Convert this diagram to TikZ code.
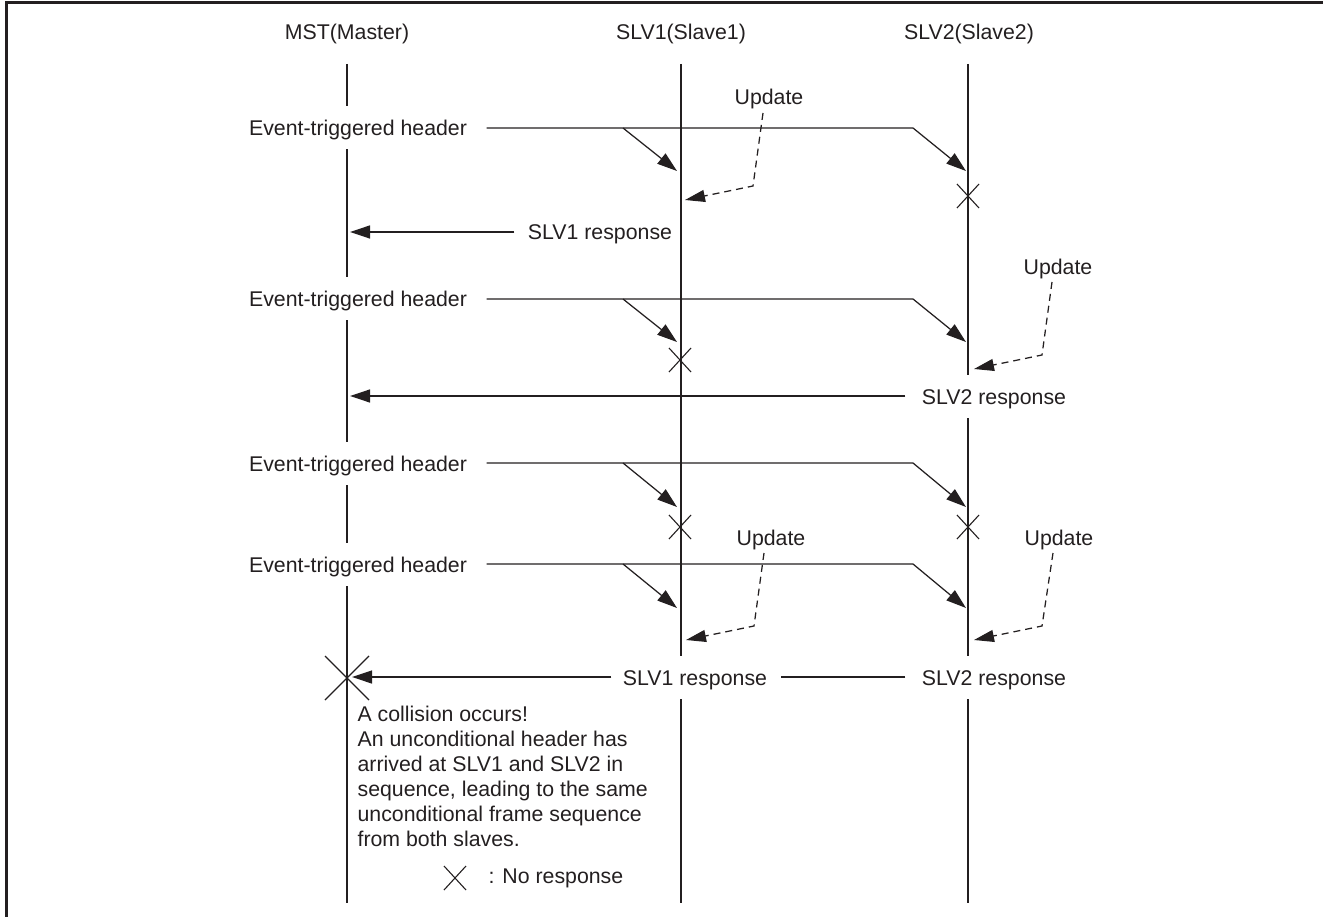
\documentclass[tikz,border=0pt]{standalone}
\usepackage{fontspec}
\setmainfont{Liberation Sans}
\usetikzlibrary{arrows.meta}
\definecolor{ink}{HTML}{231F20}
\begin{document}
\begin{tikzpicture}[x=1pt,y=-1pt,line width=1.25pt,draw=ink,
  lbl/.style={font=\fontsize{21.3}{25}\selectfont,text=ink,inner sep=0pt},
  gapbox/.style={lbl,fill=white,text height=20pt,text depth=4pt,minimum height=43pt},
  tipped/.style={-{Triangle[length=20pt,width=13pt]}},
  upline/.style={dash pattern=on 7pt off 5pt,-{Triangle[length=20pt,width=12pt]}},
  cross/.style={line width=1.1pt}]
\useasboundingbox (0,0) rectangle (1323,917);
% frame
\draw[line width=3pt] (6,917) -- (6,3) -- (1323,3);
% lifelines
\coordinate (mT) at (347,64);  \coordinate (mB) at (347,903);
\coordinate (aT) at (681,64);  \coordinate (aB) at (681,903);
\coordinate (bT) at (968,64);  \coordinate (bB) at (968,903);
\draw (mT) -- (mB);
\draw (aT) -- (aB);
\draw (bT) -- (bB);
% titles
\node[lbl,anchor=base] (mst) at (347,40) {MST(Master)};
\node[lbl,anchor=base] (slv1) at (681,40) {SLV1(Slave1)};
\node[lbl,anchor=base] (slv2) at (969,40) {SLV2(Slave2)};

% ---------- row 1 ----------
\node[gapbox] (h1) at (358,128) {Event-triggered header};
\coordinate (h1a) at (623,128); \coordinate (h1b) at (913,128);
\coordinate (t1a) at (677,171); \coordinate (t1b) at (966,171);
\draw[tipped,shorten <=19pt] (h1.east) -- (h1b) -- (t1b);
\draw[tipped] (h1a) -- (t1a);
\node[lbl,anchor=base] (u1) at (769,105) {Update};
\coordinate (u1s) at (763,113); \coordinate (u1m) at (753,186); \coordinate (u1t) at (685,200);
\draw[upline] (u1s) -- (u1m) -- (u1t);
\coordinate (x1) at (968,196);
\draw[cross] (x1) +(-11,-12) -- +(11,12) (x1) +(-11,12) -- +(11,-12);
\node[gapbox] (r1) at (600,232) {SLV1 response};
\coordinate (m1) at (350,232);
\draw[tipped,shorten <=13pt] (r1.west) -- (m1);

% ---------- row 2 ----------
\node[gapbox] (h2) at (358,299) {Event-triggered header};
\coordinate (h2a) at (623,299); \coordinate (h2b) at (913,299);
\coordinate (t2a) at (677,342); \coordinate (t2b) at (966,342);
\draw[tipped,shorten <=19pt] (h2.east) -- (h2b) -- (t2b);
\draw[tipped] (h2a) -- (t2a);
\coordinate (x2) at (680,360);
\draw[cross] (x2) +(-11,-12) -- +(11,12) (x2) +(-11,12) -- +(11,-12);
\node[lbl,anchor=base] (u2) at (1058,275) {Update};
\coordinate (u2s) at (1052,282); \coordinate (u2m) at (1042,355); \coordinate (u2t) at (974,369);
\draw[upline] (u2s) -- (u2m) -- (u2t);
\node[gapbox] (r2) at (994,396) {SLV2 response};
\coordinate (m2) at (350,396);
\draw[tipped,shorten <=16pt] (r2.west) -- (m2);

% ---------- row 3 ----------
\node[gapbox] (h3) at (358,463) {Event-triggered header};
\coordinate (h3a) at (623,463); \coordinate (h3b) at (913,463);
\coordinate (t3a) at (677,507); \coordinate (t3b) at (966,507);
\draw[tipped,shorten <=19pt] (h3.east) -- (h3b) -- (t3b);
\draw[tipped] (h3a) -- (t3a);
\coordinate (x3a) at (680,527); \coordinate (x3b) at (968,527);
\draw[cross] (x3a) +(-11,-12) -- +(11,12) (x3a) +(-11,12) -- +(11,-12);
\draw[cross] (x3b) +(-11,-12) -- +(11,12) (x3b) +(-11,12) -- +(11,-12);

% ---------- row 4 ----------
\node[gapbox] (h4) at (358,564) {Event-triggered header};
\coordinate (h4a) at (623,564); \coordinate (h4b) at (913,564);
\coordinate (t4a) at (677,608); \coordinate (t4b) at (966,608);
\draw[tipped,shorten <=19pt] (h4.east) -- (h4b) -- (t4b);
\draw[tipped] (h4a) -- (t4a);
\node[lbl,anchor=base] (u4a) at (771,545) {Update};
\coordinate (u4as) at (764,553); \coordinate (u4am) at (754,626); \coordinate (u4at) at (686,640);
\draw[upline] (u4as) -- (u4am) -- (u4at);
\node[lbl,anchor=base] (u4b) at (1059,545) {Update};
\coordinate (u4bs) at (1053,553); \coordinate (u4bm) at (1042,626); \coordinate (u4bt) at (974,640);
\draw[upline] (u4bs) -- (u4bm) -- (u4bt);
\node[gapbox] (r4a) at (695,677) {SLV1 response};
\node[gapbox] (r4b) at (994,677) {SLV2 response};
\coordinate (m4) at (352,677);
\draw[shorten <=16pt,shorten >=13pt] (r4b.west) -- (r4a.east);
\draw[tipped,shorten <=11pt] (r4a.west) -- (m4);
% collision
\coordinate (xc) at (347,678);
\draw[cross] (xc) +(-22,-22) -- +(22,22) (xc) +(-22,22) -- +(22,-22);
\node[lbl,anchor=north west,align=left] (note) at (357,705.5)
  {A collision occurs!\\An unconditional header has\\arrived at SLV1 and SLV2 in\\sequence, leading to the same\\unconditional frame sequence\\from both slaves.};
% legend
\coordinate (xl) at (455,878);
\draw[cross] (xl) +(-11,-12) -- +(11,12) (xl) +(-11,12) -- +(11,-12);
\node[lbl,anchor=base west] (leg) at (488,883) {: No response};
\end{tikzpicture}
\end{document}
